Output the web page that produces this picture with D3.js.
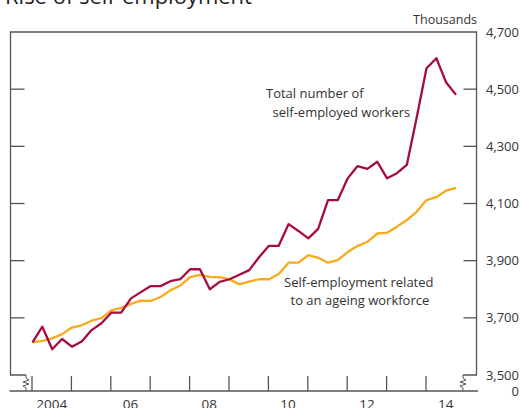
<!DOCTYPE html>
<html>
<head>
<meta charset="utf-8">
<script src="https://cdn.jsdelivr.net/npm/d3@7"></script>
<style>
  body { margin: 0; background: #fff; }
  svg { display: block; font-family: "Open Sans", sans-serif; }
</style>
</head>
<body>
<div id="chart"></div>
<script>
// Quarterly observations, 2004 Q1 to 2014 Q4 (thousands)
const quarters = [
  '2004 Q1', '2004 Q2', '2004 Q3', '2004 Q4',
  '2005 Q1', '2005 Q2', '2005 Q3', '2005 Q4',
  '2006 Q1', '2006 Q2', '2006 Q3', '2006 Q4',
  '2007 Q1', '2007 Q2', '2007 Q3', '2007 Q4',
  '2008 Q1', '2008 Q2', '2008 Q3', '2008 Q4',
  '2009 Q1', '2009 Q2', '2009 Q3', '2009 Q4',
  '2010 Q1', '2010 Q2', '2010 Q3', '2010 Q4',
  '2011 Q1', '2011 Q2', '2011 Q3', '2011 Q4',
  '2012 Q1', '2012 Q2', '2012 Q3', '2012 Q4',
  '2013 Q1', '2013 Q2', '2013 Q3', '2013 Q4',
  '2014 Q1', '2014 Q2', '2014 Q3', '2014 Q4'
];

const totalSelfEmployed = [
  3614, 3669, 3590, 3626, 3599, 3617, 3657, 3681,
  3718, 3718, 3768, 3790, 3811, 3811, 3828, 3835,
  3870, 3870, 3800, 3826, 3835, 3851, 3867, 3912,
  3952, 3952, 4028, 4004, 3978, 4011, 4112, 4112,
  4188, 4231, 4221, 4246, 4188, 4206, 4235, 4400,
  4573, 4608, 4523, 4480
];

const ageingRelated = [
  3614, 3619, 3628, 3643, 3666, 3674, 3690, 3699,
  3726, 3735, 3749, 3760, 3759, 3773, 3796, 3813,
  3842, 3850, 3843, 3842, 3835, 3817, 3827, 3835,
  3835, 3853, 3893, 3893, 3919, 3910, 3893, 3902,
  3930, 3951, 3966, 3995, 3998, 4019, 4042, 4071,
  4112, 4122, 4145, 4155
];

const yTickValues = [4700, 4500, 4300, 4100, 3900, 3700, 3500];
const xTickYears = [2004, 2005, 2006, 2007, 2008, 2009, 2010, 2011, 2012, 2013, 2014];
const xLabelYears = [2004, 2006, 2008, 2010, 2012, 2014];
const xLabelText = ['2004', '06', '08', '10', '12', '14'];

const width = 521;
const height = 408;

// plot frame
const frameLeft = 10.5;
const frameRight = 476.5;
const frameTop = 32;
const frameBottom = 375;
const baseline = 391;

const axisColor = '#555';
const textColor = '#333';

const svg = d3.select('#chart')
  .append('svg')
  .attr('width', width)
  .attr('height', height);

const x = d3.scaleLinear()
  .domain([2004, 2014])
  .range([32, 426]);

const y = d3.scaleLinear()
  .domain([3500, 4700])
  .range([frameBottom, frameTop]);

const quarterTime = q => +q.slice(0, 4) + (+q.slice(6) - 1) / 4;

// Title (cut off at the top of the picture)
svg.append('text')
  .attr('x', 5)
  .attr('y', 4)
  .style('font-size', '22px')
  .style('fill', '#222')
  .text('Rise of self-employment');

svg.append('text')
  .attr('x', 477)
  .attr('y', 24)
  .attr('text-anchor', 'end')
  .style('font-size', '12.5px')
  .style('fill', textColor)
  .text('Thousands');

// Frame with broken bottom corners
const zig = (cx) => [
  [cx, frameBottom], [cx, frameBottom + 3],
  [cx + 3, frameBottom + 5], [cx - 3, frameBottom + 7],
  [cx + 3, frameBottom + 9], [cx - 3, frameBottom + 11],
  [cx, frameBottom + 13], [cx, baseline]
];

svg.append('path')
  .attr('d', d3.line()([
    [26, frameBottom], [frameLeft, frameBottom], [frameLeft, frameTop],
    [frameRight, frameTop], [frameRight, frameBottom], [463, frameBottom]
  ]))
  .attr('fill', 'none')
  .attr('stroke', axisColor)
  .attr('stroke-width', 1.3);

[26, 463].forEach(cx => {
  svg.append('path')
    .attr('d', d3.line()(zig(cx)))
    .attr('fill', 'none')
    .attr('stroke', axisColor)
    .attr('stroke-width', 1);
});

// Baseline
svg.append('line')
  .attr('x1', frameLeft - 1)
  .attr('x2', frameRight + 1.5)
  .attr('y1', baseline)
  .attr('y2', baseline)
  .attr('stroke', axisColor)
  .attr('stroke-width', 1.5);

// Y ticks inside both sides
const inner = yTickValues.filter(v => v !== 4700 && v !== 3500);
svg.selectAll('.ytick-left')
  .data(inner)
  .enter().append('line')
  .attr('class', 'ytick-left')
  .attr('x1', frameLeft)
  .attr('x2', frameLeft + 14)
  .attr('y1', d => y(d))
  .attr('y2', d => y(d))
  .attr('stroke', axisColor)
  .attr('stroke-width', 1.3);

svg.selectAll('.ytick-right')
  .data(inner)
  .enter().append('line')
  .attr('class', 'ytick-right')
  .attr('x1', frameRight - 13)
  .attr('x2', frameRight)
  .attr('y1', d => y(d))
  .attr('y2', d => y(d))
  .attr('stroke', axisColor)
  .attr('stroke-width', 1.3);

svg.selectAll('.ylabel')
  .data(yTickValues)
  .enter().append('text')
  .attr('class', 'ylabel')
  .attr('x', 519)
  .attr('y', d => y(d))
  .attr('dy', '0.35em')
  .attr('text-anchor', 'end')
  .style('font-size', '13px')
  .style('fill', textColor)
  .text(d => d3.format(',')(d));

svg.append('text')
  .attr('x', 519)
  .attr('y', baseline)
  .attr('dy', '0.35em')
  .attr('text-anchor', 'end')
  .style('font-size', '13px')
  .style('fill', textColor)
  .text('0');

// X ticks on baseline
svg.selectAll('.xtick')
  .data(xTickYears)
  .enter().append('line')
  .attr('class', 'xtick')
  .attr('x1', d => x(d))
  .attr('x2', d => x(d))
  .attr('y1', baseline)
  .attr('y2', baseline - 15)
  .attr('stroke', axisColor)
  .attr('stroke-width', 1.3);

svg.selectAll('.xlabel')
  .data(xLabelYears)
  .enter().append('text')
  .attr('class', 'xlabel')
  .attr('x', d => x(d + 0.5))
  .attr('y', 409)
  .attr('text-anchor', 'middle')
  .style('font-size', '13.5px')
  .style('fill', textColor)
  .text((d, i) => xLabelText[i]);

// Lines
const line = d3.line()
  .x((d, i) => x(quarterTime(quarters[i])) + 0.5)
  .y(d => y(d));

svg.append('path')
  .datum(ageingRelated)
  .attr('d', line)
  .attr('fill', 'none')
  .attr('stroke', '#f9aa1c')
  .attr('stroke-width', 2.3)
  .attr('stroke-linejoin', 'round');

svg.append('path')
  .datum(totalSelfEmployed)
  .attr('d', line)
  .attr('fill', 'none')
  .attr('stroke', '#a50d3f')
  .attr('stroke-width', 2.3)
  .attr('stroke-linejoin', 'round');

// Annotations
const notes = [
  { text: 'Total number of', x: 266, y: 98 },
  { text: 'self-employed workers', x: 272.5, y: 117 },
  { text: 'Self-employment related', x: 284, y: 287 },
  { text: 'to an ageing workforce', x: 290.5, y: 305 }
];

svg.selectAll('.note')
  .data(notes)
  .enter().append('text')
  .attr('class', 'note')
  .attr('x', d => d.x)
  .attr('y', d => d.y)
  .style('font-size', '13px')
  .style('fill', textColor)
  .text(d => d.text);
</script>
</body>
</html>
